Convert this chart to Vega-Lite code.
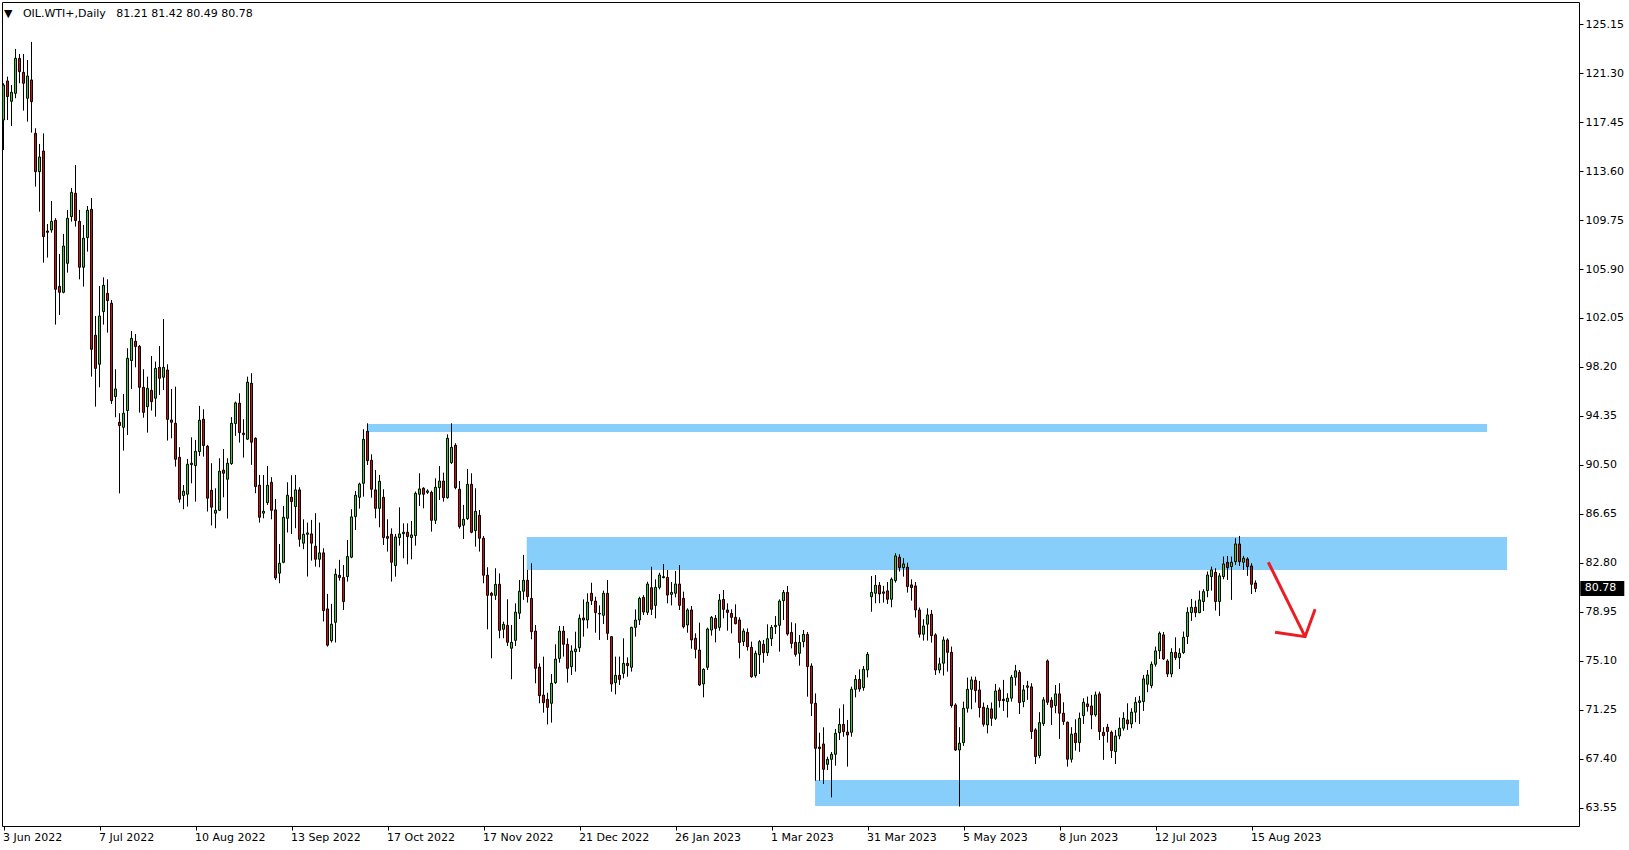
{
"$schema": "https://vega.github.io/schema/vega-lite/v6.json",
"width": 1577, "height": 824,
"autosize": {"type": "none"},
"padding": {"left": 2, "top": 2, "right": 50, "bottom": 24},
"background": "white",
"view": {"stroke": "#000", "strokeWidth": 1},
"title": {"text": "▼\u00a0\u00a0\u00a0OIL.WTI+,Daily\u00a0\u00a0\u00a081.21 81.42 80.49 80.78", "anchor": "start", "orient": "top", "offset": -23, "baseline": "middle", "font": "DejaVu Sans", "fontSize": 11, "fontWeight": "normal", "color": "#000", "dx": 2},
"config": {"axis": {"labelFont": "DejaVu Sans", "labelFontSize": 11, "labelColor": "#000", "tickColor": "#000", "tickWidth": 1, "domain": false, "grid": false, "labelOverlap": false, "labelFlush": false, "labelBound": false}, "scale": {"continuousPadding": 0}},
"datasets": {
"zones": [
{"i1": 90.95, "i2": 370.9, "p1": 93.09, "p2": 93.72},
{"i1": 130.8, "i2": 375.9, "p1": 82.24, "p2": 84.83},
{"i1": 202.9, "i2": 378.9, "p1": 63.67, "p2": 65.72}
],
"arrow": [
{"s": "a", "k": 0, "i": 316.2, "p": 82.84},
{"s": "a", "k": 1, "i": 325.4, "p": 76.99},
{"s": "b", "k": 0, "i": 317.9, "p": 77.34},
{"s": "b", "k": 1, "i": 325.4, "p": 76.99},
{"s": "b", "k": 2, "i": 327.9, "p": 79.15}
],
"last": [{"i": 395.3, "i1": 394.2, "i2": 405.2, "p": 80.78, "p1": 81.37, "p2": 80.19, "t": "80.78"}],
"bars": [
{"i":0,"o":117.62,"h":120.51,"l":115.26,"c":120.37},
{"i":1,"o":120.69,"h":121.03,"l":117.62,"c":119.46},
{"i":2,"o":119.09,"h":120.37,"l":117.15,"c":119.80},
{"i":3,"o":119.72,"h":123.21,"l":119.33,"c":122.47},
{"i":4,"o":122.47,"h":122.81,"l":120.51,"c":121.42},
{"i":5,"o":121.37,"h":122.81,"l":118.36,"c":120.51},
{"i":6,"o":119.33,"h":122.34,"l":117.49,"c":121.08},
{"i":7,"o":120.77,"h":123.76,"l":116.63,"c":119.06},
{"i":8,"o":116.57,"h":116.97,"l":112.38,"c":113.56},
{"i":9,"o":113.56,"h":115.74,"l":110.41,"c":114.71},
{"i":10,"o":115.18,"h":116.57,"l":106.40,"c":108.45},
{"i":11,"o":108.89,"h":109.44,"l":106.80,"c":108.79},
{"i":12,"o":108.97,"h":111.25,"l":108.76,"c":109.65},
{"i":13,"o":109.73,"h":109.90,"l":101.53,"c":104.31},
{"i":14,"o":104.54,"h":107.09,"l":102.29,"c":104.07},
{"i":15,"o":104.07,"h":108.66,"l":103.99,"c":107.71},
{"i":16,"o":106.35,"h":110.55,"l":105.62,"c":109.89},
{"i":17,"o":110.02,"h":112.28,"l":109.63,"c":111.93},
{"i":18,"o":111.86,"h":114.08,"l":109.23,"c":109.71},
{"i":19,"o":109.65,"h":110.55,"l":105.09,"c":106.04},
{"i":20,"o":106.04,"h":109.37,"l":104.52,"c":108.32},
{"i":21,"o":108.37,"h":110.86,"l":107.27,"c":110.52},
{"i":22,"o":110.60,"h":111.49,"l":97.44,"c":99.59},
{"i":23,"o":100.69,"h":102.21,"l":95.08,"c":98.09},
{"i":24,"o":98.41,"h":104.57,"l":96.60,"c":102.21},
{"i":25,"o":102.55,"h":105.25,"l":101.53,"c":104.62},
{"i":26,"o":103.99,"h":105.09,"l":100.90,"c":103.42},
{"i":27,"o":103.21,"h":103.47,"l":95.29,"c":95.55},
{"i":28,"o":95.87,"h":98.02,"l":94.24,"c":96.47},
{"i":29,"o":93.85,"h":94.56,"l":88.26,"c":93.59},
{"i":30,"o":93.45,"h":96.08,"l":91.62,"c":94.56},
{"i":31,"o":94.77,"h":99.67,"l":92.85,"c":98.88},
{"i":32,"o":98.70,"h":101.03,"l":96.47,"c":100.45},
{"i":33,"o":100.22,"h":100.79,"l":98.17,"c":99.80},
{"i":34,"o":99.82,"h":99.93,"l":94.61,"c":96.60},
{"i":35,"o":96.60,"h":98.02,"l":94.21,"c":94.63},
{"i":36,"o":95.08,"h":97.44,"l":93.04,"c":96.52},
{"i":37,"o":96.36,"h":99.06,"l":94.77,"c":95.47},
{"i":38,"o":95.74,"h":98.62,"l":94.29,"c":98.09},
{"i":39,"o":98.17,"h":99.85,"l":96.00,"c":97.31},
{"i":40,"o":97.39,"h":101.97,"l":96.39,"c":98.17},
{"i":41,"o":97.96,"h":98.41,"l":92.41,"c":94.08},
{"i":42,"o":94.03,"h":96.47,"l":92.59,"c":93.85},
{"i":43,"o":93.77,"h":96.65,"l":90.36,"c":90.94},
{"i":44,"o":91.10,"h":91.89,"l":87.53,"c":87.80},
{"i":45,"o":88.09,"h":88.92,"l":87.01,"c":88.43},
{"i":46,"o":88.19,"h":90.97,"l":87.22,"c":90.55},
{"i":47,"o":90.52,"h":92.67,"l":89.05,"c":90.63},
{"i":48,"o":90.44,"h":92.46,"l":87.61,"c":91.57},
{"i":49,"o":91.55,"h":95.14,"l":91.20,"c":94.01},
{"i":50,"o":94.09,"h":94.87,"l":91.15,"c":92.02},
{"i":51,"o":91.96,"h":92.07,"l":86.83,"c":87.88},
{"i":52,"o":88.50,"h":90.63,"l":85.73,"c":87.17},
{"i":53,"o":86.70,"h":88.66,"l":85.52,"c":86.93},
{"i":54,"o":86.93,"h":91.02,"l":86.91,"c":90.00},
{"i":55,"o":90.08,"h":91.75,"l":87.95,"c":89.84},
{"i":56,"o":89.37,"h":91.02,"l":86.28,"c":90.63},
{"i":57,"o":90.60,"h":94.25,"l":90.50,"c":93.77},
{"i":58,"o":93.75,"h":95.48,"l":92.78,"c":95.37},
{"i":59,"o":95.35,"h":96.13,"l":92.25,"c":93.04},
{"i":60,"o":92.99,"h":94.09,"l":91.07,"c":92.88},
{"i":61,"o":92.52,"h":97.44,"l":92.46,"c":97.00},
{"i":62,"o":96.92,"h":97.71,"l":90.50,"c":92.28},
{"i":63,"o":92.59,"h":92.67,"l":88.27,"c":88.79},
{"i":64,"o":88.90,"h":89.71,"l":85.96,"c":86.38},
{"i":65,"o":86.70,"h":89.71,"l":86.30,"c":86.85},
{"i":66,"o":87.53,"h":90.42,"l":87.35,"c":88.90},
{"i":67,"o":89.13,"h":89.53,"l":86.22,"c":86.93},
{"i":68,"o":86.96,"h":87.82,"l":81.45,"c":81.61},
{"i":69,"o":81.98,"h":84.28,"l":81.19,"c":82.76},
{"i":70,"o":82.84,"h":87.27,"l":82.76,"c":86.38},
{"i":71,"o":86.30,"h":89.13,"l":85.18,"c":88.11},
{"i":72,"o":87.95,"h":89.68,"l":85.07,"c":87.61},
{"i":73,"o":87.22,"h":89.71,"l":85.52,"c":88.53},
{"i":74,"o":88.53,"h":88.74,"l":84.07,"c":84.65},
{"i":75,"o":84.34,"h":86.22,"l":83.87,"c":85.04},
{"i":76,"o":85.04,"h":85.96,"l":81.72,"c":85.15},
{"i":77,"o":85.07,"h":86.17,"l":82.97,"c":84.34},
{"i":78,"o":84.10,"h":86.70,"l":82.50,"c":83.08},
{"i":79,"o":83.08,"h":85.96,"l":82.45,"c":83.58},
{"i":80,"o":83.58,"h":83.94,"l":78.18,"c":79.04},
{"i":81,"o":79.17,"h":80.35,"l":76.21,"c":76.32},
{"i":82,"o":76.68,"h":79.57,"l":76.53,"c":77.97},
{"i":83,"o":78.12,"h":82.34,"l":76.53,"c":81.90},
{"i":84,"o":81.82,"h":83.03,"l":81.40,"c":81.64},
{"i":85,"o":81.64,"h":82.63,"l":79.09,"c":79.75},
{"i":86,"o":81.72,"h":84.60,"l":81.32,"c":83.29},
{"i":87,"o":83.24,"h":87.01,"l":83.16,"c":86.41},
{"i":88,"o":86.43,"h":88.45,"l":85.38,"c":88.11},
{"i":89,"o":87.95,"h":89.10,"l":87.06,"c":89.00},
{"i":90,"o":89.05,"h":93.30,"l":88.00,"c":92.51},
{"i":91,"o":93.14,"h":93.77,"l":90.49,"c":90.83},
{"i":92,"o":90.86,"h":91.33,"l":87.92,"c":88.58},
{"i":93,"o":88.53,"h":90.10,"l":86.30,"c":87.08},
{"i":94,"o":87.08,"h":89.71,"l":85.59,"c":89.21},
{"i":95,"o":87.95,"h":88.58,"l":84.20,"c":84.78},
{"i":96,"o":84.86,"h":86.22,"l":83.68,"c":84.73},
{"i":97,"o":85.04,"h":85.51,"l":81.32,"c":82.84},
{"i":98,"o":82.58,"h":85.07,"l":81.71,"c":84.83},
{"i":99,"o":84.78,"h":87.16,"l":84.15,"c":85.07},
{"i":100,"o":85.09,"h":85.90,"l":83.15,"c":85.20},
{"i":101,"o":85.20,"h":85.90,"l":82.68,"c":84.86},
{"i":102,"o":84.78,"h":86.09,"l":83.07,"c":84.99},
{"i":103,"o":84.94,"h":88.40,"l":84.15,"c":88.26},
{"i":104,"o":88.19,"h":89.84,"l":87.27,"c":88.61},
{"i":105,"o":88.66,"h":88.74,"l":87.08,"c":88.19},
{"i":106,"o":88.34,"h":88.58,"l":88.21,"c":88.45},
{"i":107,"o":88.34,"h":88.47,"l":85.25,"c":86.14},
{"i":108,"o":86.14,"h":89.44,"l":85.85,"c":88.74},
{"i":109,"o":88.71,"h":90.41,"l":87.74,"c":89.23},
{"i":110,"o":89.23,"h":89.89,"l":87.61,"c":87.92},
{"i":111,"o":87.92,"h":92.90,"l":87.84,"c":92.59},
{"i":112,"o":90.68,"h":93.77,"l":90.57,"c":91.88},
{"i":113,"o":92.04,"h":92.20,"l":88.58,"c":88.71},
{"i":114,"o":88.58,"h":89.23,"l":85.49,"c":85.64},
{"i":115,"o":85.75,"h":87.35,"l":84.67,"c":86.22},
{"i":116,"o":86.27,"h":90.18,"l":86.17,"c":88.97},
{"i":117,"o":88.97,"h":89.84,"l":85.12,"c":85.20},
{"i":118,"o":85.33,"h":88.66,"l":84.07,"c":86.85},
{"i":119,"o":86.53,"h":86.95,"l":83.68,"c":84.73},
{"i":120,"o":84.73,"h":84.91,"l":81.19,"c":81.82},
{"i":121,"o":81.82,"h":82.45,"l":77.57,"c":80.24},
{"i":122,"o":80.40,"h":80.51,"l":75.29,"c":80.24},
{"i":123,"o":80.24,"h":82.37,"l":79.88,"c":81.11},
{"i":124,"o":81.11,"h":81.97,"l":76.86,"c":77.49},
{"i":125,"o":77.57,"h":78.17,"l":76.86,"c":77.96},
{"i":126,"o":77.88,"h":79.93,"l":76.26,"c":76.55},
{"i":127,"o":76.08,"h":77.91,"l":73.64,"c":76.55},
{"i":128,"o":76.70,"h":79.61,"l":76.26,"c":78.91},
{"i":129,"o":78.83,"h":81.45,"l":78.38,"c":80.56},
{"i":130,"o":80.56,"h":83.42,"l":79.88,"c":81.42},
{"i":131,"o":81.42,"h":82.24,"l":79.67,"c":80.14},
{"i":132,"o":80.00,"h":82.76,"l":76.78,"c":77.38},
{"i":133,"o":77.43,"h":77.91,"l":73.32,"c":74.50},
{"i":134,"o":74.60,"h":74.89,"l":71.75,"c":72.35},
{"i":135,"o":72.40,"h":75.42,"l":71.01,"c":71.80},
{"i":136,"o":72.06,"h":72.58,"l":70.09,"c":71.43},
{"i":137,"o":71.75,"h":74.05,"l":70.23,"c":73.32},
{"i":138,"o":73.37,"h":76.39,"l":73.27,"c":75.23},
{"i":139,"o":75.28,"h":77.83,"l":74.94,"c":77.43},
{"i":140,"o":77.43,"h":77.83,"l":75.42,"c":76.39},
{"i":141,"o":76.39,"h":76.86,"l":73.37,"c":74.50},
{"i":142,"o":74.63,"h":76.31,"l":73.97,"c":75.86},
{"i":143,"o":75.81,"h":77.38,"l":74.24,"c":76.02},
{"i":144,"o":76.12,"h":78.74,"l":75.78,"c":78.43},
{"i":145,"o":78.46,"h":79.92,"l":76.99,"c":78.30},
{"i":146,"o":78.30,"h":80.40,"l":77.64,"c":79.71},
{"i":147,"o":80.40,"h":81.23,"l":79.48,"c":79.82},
{"i":148,"o":79.79,"h":80.13,"l":77.30,"c":78.88},
{"i":149,"o":78.77,"h":79.45,"l":76.73,"c":78.82},
{"i":150,"o":78.67,"h":80.61,"l":77.98,"c":80.40},
{"i":151,"o":80.40,"h":81.44,"l":76.73,"c":77.25},
{"i":152,"o":76.99,"h":77.04,"l":72.66,"c":73.27},
{"i":153,"o":73.37,"h":75.42,"l":72.45,"c":73.95},
{"i":154,"o":73.95,"h":75.42,"l":73.19,"c":73.63},
{"i":155,"o":74.10,"h":76.86,"l":73.71,"c":74.89},
{"i":156,"o":74.89,"h":75.36,"l":73.84,"c":74.71},
{"i":157,"o":74.58,"h":77.77,"l":74.24,"c":77.72},
{"i":158,"o":77.72,"h":79.14,"l":76.99,"c":78.30},
{"i":159,"o":78.30,"h":80.13,"l":77.91,"c":80.00},
{"i":160,"o":80.08,"h":80.26,"l":78.69,"c":78.93},
{"i":161,"o":78.90,"h":81.31,"l":78.69,"c":81.13},
{"i":162,"o":80.84,"h":82.49,"l":78.69,"c":79.14},
{"i":163,"o":79.45,"h":81.50,"l":78.43,"c":80.87},
{"i":164,"o":80.87,"h":82.02,"l":80.71,"c":81.84},
{"i":165,"o":81.63,"h":82.70,"l":81.58,"c":81.71},
{"i":166,"o":81.65,"h":82.23,"l":79.61,"c":80.26},
{"i":167,"o":80.32,"h":81.29,"l":79.45,"c":80.47},
{"i":168,"o":80.40,"h":82.15,"l":80.08,"c":81.13},
{"i":169,"o":81.13,"h":82.62,"l":79.09,"c":79.45},
{"i":170,"o":80.00,"h":80.53,"l":77.64,"c":77.77},
{"i":171,"o":77.91,"h":79.22,"l":77.30,"c":79.09},
{"i":172,"o":79.09,"h":79.40,"l":76.04,"c":76.73},
{"i":173,"o":76.86,"h":77.25,"l":75.28,"c":75.99},
{"i":174,"o":75.94,"h":78.09,"l":73.11,"c":73.19},
{"i":175,"o":73.27,"h":74.50,"l":72.22,"c":74.42},
{"i":176,"o":74.58,"h":77.70,"l":74.37,"c":77.59},
{"i":177,"o":77.51,"h":78.61,"l":77.07,"c":78.51},
{"i":178,"o":78.43,"h":78.69,"l":76.54,"c":77.64},
{"i":179,"o":77.72,"h":80.34,"l":77.46,"c":79.87},
{"i":180,"o":79.92,"h":80.66,"l":78.43,"c":79.14},
{"i":181,"o":79.09,"h":79.61,"l":77.46,"c":78.90},
{"i":182,"o":78.82,"h":79.14,"l":77.25,"c":78.51},
{"i":183,"o":78.51,"h":79.53,"l":77.96,"c":78.01},
{"i":184,"o":78.30,"h":78.51,"l":75.28,"c":76.54},
{"i":185,"o":76.60,"h":77.64,"l":76.25,"c":77.43},
{"i":186,"o":77.33,"h":77.64,"l":75.89,"c":76.20},
{"i":187,"o":76.15,"h":76.60,"l":73.76,"c":73.84},
{"i":188,"o":73.92,"h":75.89,"l":73.76,"c":75.68},
{"i":189,"o":75.57,"h":76.73,"l":74.05,"c":76.60},
{"i":190,"o":76.39,"h":76.73,"l":74.94,"c":75.73},
{"i":191,"o":75.73,"h":77.96,"l":75.47,"c":76.83},
{"i":192,"o":76.83,"h":77.91,"l":76.25,"c":77.72},
{"i":193,"o":77.77,"h":78.61,"l":77.20,"c":77.88},
{"i":194,"o":77.88,"h":79.92,"l":75.81,"c":79.79},
{"i":195,"o":79.82,"h":80.66,"l":78.30,"c":80.47},
{"i":196,"o":80.47,"h":80.97,"l":77.07,"c":77.20},
{"i":197,"o":77.33,"h":78.12,"l":76.07,"c":76.46},
{"i":198,"o":76.54,"h":78.04,"l":75.42,"c":75.60},
{"i":199,"o":75.68,"h":77.12,"l":74.71,"c":76.54},
{"i":200,"o":76.60,"h":77.51,"l":76.15,"c":77.17},
{"i":201,"o":77.17,"h":77.36,"l":72.27,"c":74.63},
{"i":202,"o":74.68,"h":74.89,"l":70.75,"c":71.75},
{"i":203,"o":71.75,"h":72.53,"l":65.66,"c":68.21},
{"i":204,"o":68.31,"h":69.44,"l":65.66,"c":68.18},
{"i":205,"o":68.55,"h":69.86,"l":65.40,"c":66.56},
{"i":206,"o":66.95,"h":67.55,"l":66.50,"c":67.34},
{"i":207,"o":67.34,"h":67.92,"l":64.35,"c":67.74},
{"i":208,"o":67.74,"h":69.73,"l":66.84,"c":69.39},
{"i":209,"o":69.44,"h":71.35,"l":68.86,"c":70.09},
{"i":210,"o":70.09,"h":71.67,"l":69.12,"c":69.52},
{"i":211,"o":69.49,"h":70.44,"l":66.77,"c":69.26},
{"i":212,"o":69.47,"h":73.06,"l":69.12,"c":72.85},
{"i":213,"o":72.85,"h":73.97,"l":72.22,"c":73.63},
{"i":214,"o":73.63,"h":74.42,"l":72.66,"c":72.87},
{"i":215,"o":72.98,"h":74.68,"l":72.74,"c":74.42},
{"i":216,"o":74.37,"h":75.78,"l":73.79,"c":75.60},
{"i":217,"o":80.13,"h":81.76,"l":78.95,"c":80.47},
{"i":218,"o":80.40,"h":81.84,"l":79.61,"c":81.03},
{"i":219,"o":81.03,"h":81.29,"l":79.62,"c":80.35},
{"i":220,"o":80.51,"h":80.98,"l":79.67,"c":80.40},
{"i":221,"o":80.59,"h":81.29,"l":79.56,"c":79.93},
{"i":222,"o":79.93,"h":81.64,"l":79.30,"c":81.50},
{"i":223,"o":81.40,"h":83.55,"l":81.24,"c":83.34},
{"i":224,"o":83.23,"h":83.47,"l":82.11,"c":82.42},
{"i":225,"o":82.42,"h":83.16,"l":81.71,"c":82.71},
{"i":226,"o":82.45,"h":82.81,"l":80.46,"c":80.93},
{"i":227,"o":81.06,"h":81.50,"l":79.83,"c":80.85},
{"i":228,"o":80.98,"h":81.29,"l":78.49,"c":79.09},
{"i":229,"o":79.09,"h":79.28,"l":76.92,"c":77.18},
{"i":230,"o":77.18,"h":78.36,"l":76.68,"c":77.83},
{"i":231,"o":77.97,"h":79.22,"l":76.68,"c":78.70},
{"i":232,"o":78.75,"h":79.09,"l":76.52,"c":77.07},
{"i":233,"o":77.13,"h":77.26,"l":73.98,"c":74.37},
{"i":234,"o":74.37,"h":75.34,"l":74.11,"c":74.85},
{"i":235,"o":74.90,"h":77.00,"l":73.93,"c":76.73},
{"i":236,"o":76.73,"h":76.86,"l":74.24,"c":75.76},
{"i":237,"o":75.76,"h":76.21,"l":71.41,"c":71.57},
{"i":238,"o":71.62,"h":71.75,"l":68.00,"c":68.08},
{"i":239,"o":68.08,"h":69.87,"l":63.63,"c":68.61},
{"i":240,"o":68.66,"h":71.88,"l":68.40,"c":71.36},
{"i":241,"o":71.36,"h":73.77,"l":71.02,"c":72.85},
{"i":242,"o":72.85,"h":73.85,"l":71.28,"c":73.59},
{"i":243,"o":73.56,"h":73.85,"l":71.81,"c":72.75},
{"i":244,"o":72.80,"h":73.51,"l":70.63,"c":71.41},
{"i":245,"o":71.44,"h":71.81,"l":69.92,"c":70.10},
{"i":246,"o":70.05,"h":71.62,"l":69.39,"c":71.36},
{"i":247,"o":71.31,"h":71.81,"l":69.97,"c":70.57},
{"i":248,"o":70.57,"h":73.27,"l":70.44,"c":72.72},
{"i":249,"o":72.80,"h":72.99,"l":71.41,"c":71.96},
{"i":250,"o":72.07,"h":73.59,"l":71.15,"c":71.96},
{"i":251,"o":71.88,"h":72.54,"l":70.63,"c":72.15},
{"i":252,"o":72.15,"h":73.98,"l":71.88,"c":73.80},
{"i":253,"o":73.80,"h":74.77,"l":73.14,"c":74.30},
{"i":254,"o":74.19,"h":74.37,"l":70.91,"c":71.81},
{"i":255,"o":71.88,"h":73.19,"l":71.44,"c":72.80},
{"i":256,"o":73.01,"h":73.51,"l":72.02,"c":73.12},
{"i":257,"o":73.04,"h":73.33,"l":68.95,"c":69.53},
{"i":258,"o":69.66,"h":69.79,"l":66.98,"c":67.56},
{"i":259,"o":67.64,"h":71.05,"l":67.43,"c":70.23},
{"i":260,"o":70.15,"h":72.23,"l":69.97,"c":72.02},
{"i":261,"o":75.08,"h":75.20,"l":71.62,"c":71.83},
{"i":262,"o":71.99,"h":72.23,"l":70.05,"c":71.44},
{"i":263,"o":71.57,"h":73.19,"l":70.97,"c":72.49},
{"i":264,"o":72.49,"h":73.33,"l":68.95,"c":70.97},
{"i":265,"o":70.97,"h":71.83,"l":70.05,"c":70.31},
{"i":266,"o":70.26,"h":70.31,"l":66.77,"c":67.35},
{"i":267,"o":67.35,"h":69.87,"l":67.09,"c":69.32},
{"i":268,"o":69.39,"h":70.49,"l":68.03,"c":68.66},
{"i":269,"o":68.66,"h":71.02,"l":67.93,"c":70.57},
{"i":270,"o":70.78,"h":72.15,"l":70.13,"c":71.83},
{"i":271,"o":71.70,"h":72.28,"l":71.10,"c":71.49},
{"i":272,"o":71.54,"h":72.41,"l":69.71,"c":70.84},
{"i":273,"o":70.84,"h":72.67,"l":70.70,"c":72.41},
{"i":274,"o":72.49,"h":72.67,"l":68.87,"c":69.53},
{"i":275,"o":69.47,"h":69.87,"l":67.30,"c":69.21},
{"i":276,"o":69.87,"h":70.13,"l":68.66,"c":69.53},
{"i":277,"o":69.47,"h":69.60,"l":67.45,"c":68.03},
{"i":278,"o":67.95,"h":69.66,"l":66.98,"c":69.18},
{"i":279,"o":69.18,"h":70.63,"l":68.92,"c":69.79},
{"i":280,"o":69.79,"h":71.05,"l":69.60,"c":70.57},
{"i":281,"o":70.44,"h":71.75,"l":69.66,"c":70.13},
{"i":282,"o":70.13,"h":71.36,"l":69.79,"c":71.05},
{"i":283,"o":71.05,"h":72.23,"l":70.26,"c":71.83},
{"i":284,"o":71.81,"h":72.33,"l":70.13,"c":71.94},
{"i":285,"o":71.88,"h":73.98,"l":71.15,"c":73.67},
{"i":286,"o":73.25,"h":74.37,"l":72.62,"c":73.98},
{"i":287,"o":73.14,"h":75.03,"l":72.93,"c":74.82},
{"i":288,"o":74.82,"h":76.21,"l":74.64,"c":75.87},
{"i":289,"o":75.87,"h":77.39,"l":75.24,"c":77.26},
{"i":290,"o":77.13,"h":77.36,"l":75.16,"c":75.24},
{"i":291,"o":75.08,"h":75.21,"l":73.82,"c":74.06},
{"i":292,"o":74.06,"h":76.08,"l":73.80,"c":75.76},
{"i":293,"o":75.76,"h":76.94,"l":75.16,"c":75.34},
{"i":294,"o":75.34,"h":76.08,"l":74.45,"c":75.68},
{"i":295,"o":75.74,"h":77.39,"l":75.63,"c":76.94},
{"i":296,"o":77.00,"h":79.30,"l":76.42,"c":78.91},
{"i":297,"o":78.88,"h":79.96,"l":78.23,"c":79.30},
{"i":298,"o":79.30,"h":79.83,"l":78.52,"c":78.88},
{"i":299,"o":78.88,"h":80.61,"l":78.83,"c":79.88},
{"i":300,"o":79.75,"h":80.72,"l":79.01,"c":80.53},
{"i":301,"o":80.61,"h":82.11,"l":80.09,"c":81.84},
{"i":302,"o":81.71,"h":82.50,"l":80.61,"c":82.24},
{"i":303,"o":82.05,"h":82.37,"l":79.04,"c":79.75},
{"i":304,"o":79.75,"h":81.98,"l":78.62,"c":81.77},
{"i":305,"o":81.71,"h":83.29,"l":81.50,"c":82.71},
{"i":306,"o":82.84,"h":83.34,"l":81.45,"c":82.42},
{"i":307,"o":82.50,"h":83.29,"l":79.88,"c":82.84},
{"i":308,"o":82.89,"h":84.73,"l":82.63,"c":84.28},
{"i":309,"o":84.28,"h":84.91,"l":82.55,"c":82.89},
{"i":310,"o":82.84,"h":83.34,"l":82.24,"c":83.16},
{"i":311,"o":83.10,"h":83.23,"l":81.77,"c":82.50},
{"i":312,"o":82.55,"h":82.76,"l":80.35,"c":81.11},
{"i":313,"o":81.21,"h":81.42,"l":80.49,"c":80.78}
]
},
"layer": [
{"data": {"name": "zones"}, "mark": {"type": "rect", "fill": "#87CEFA"},
 "encoding": {
  "x": {"field": "i1", "type": "quantitative", "scale": {"domain": [-0.375, 393.875], "nice": false, "zero": false, "padding": 0},
        "axis": {"orient": "bottom", "title": null, "values": [0,24,48,72,96,120,144,168,192,216,240,264,288,312], "tickSize": 4, "labelPadding": 1, "labelAlign": "left", "labelBaseline": "top", "labelOffset": -1,
                 "labelExpr": "datum.value==0?'3 Jun 2022':datum.value==24?'7 Jul 2022':datum.value==48?'10 Aug 2022':datum.value==72?'13 Sep 2022':datum.value==96?'17 Oct 2022':datum.value==120?'17 Nov 2022':datum.value==144?'21 Dec 2022':datum.value==168?'26 Jan 2023':datum.value==192?'1 Mar 2023':datum.value==216?'31 Mar 2023':datum.value==240?'5 May 2023':datum.value==264?'8 Jun 2023':datum.value==288?'12 Jul 2023':'15 Aug 2023'"}},
  "x2": {"field": "i2"},
  "y": {"field": "p1", "type": "quantitative", "scale": {"domain": [62.10, 126.90], "nice": false, "zero": false, "padding": 0},
        "axis": {"orient": "right", "title": null, "values": [63.55,67.4,71.25,75.1,78.95,82.8,86.65,90.5,94.35,98.2,102.05,105.9,109.75,113.6,117.45,121.3,125.15], "format": ".2f", "tickSize": 4, "labelPadding": 2, "labelAlign": "left", "labelBaseline": "middle"}},
  "y2": {"field": "p2"}
 }},
{"data": {"name": "bars"}, "mark": {"type": "rule", "color": "#000", "strokeWidth": 1},
 "encoding": {
  "x": {"field": "i", "type": "quantitative",
        "axis": {"orient": "bottom", "title": null, "values": [0,24,48,72,96,120,144,168,192,216,240,264,288,312], "tickSize": 4, "labelPadding": 1, "labelAlign": "left", "labelBaseline": "top", "labelOffset": -1,
                 "labelExpr": "datum.value==0?'3 Jun 2022':datum.value==24?'7 Jul 2022':datum.value==48?'10 Aug 2022':datum.value==72?'13 Sep 2022':datum.value==96?'17 Oct 2022':datum.value==120?'17 Nov 2022':datum.value==144?'21 Dec 2022':datum.value==168?'26 Jan 2023':datum.value==192?'1 Mar 2023':datum.value==216?'31 Mar 2023':datum.value==240?'5 May 2023':datum.value==264?'8 Jun 2023':datum.value==288?'12 Jul 2023':'15 Aug 2023'"}},
  "y": {"field": "l", "type": "quantitative",
        "axis": {"orient": "right", "title": null, "values": [63.55,67.4,71.25,75.1,78.95,82.8,86.65,90.5,94.35,98.2,102.05,105.9,109.75,113.6,117.45,121.3,125.15], "format": ".2f", "tickSize": 4, "labelPadding": 2, "labelAlign": "left", "labelBaseline": "middle"}},
  "y2": {"field": "h"}
 }},
{"data": {"name": "bars"}, "mark": {"type": "bar", "width": 2, "stroke": "#000", "strokeWidth": 1},
 "encoding": {
  "x": {"field": "i", "type": "quantitative",
        "axis": {"orient": "bottom", "title": null, "values": [0,24,48,72,96,120,144,168,192,216,240,264,288,312], "tickSize": 4, "labelPadding": 1, "labelAlign": "left", "labelBaseline": "top", "labelOffset": -1,
                 "labelExpr": "datum.value==0?'3 Jun 2022':datum.value==24?'7 Jul 2022':datum.value==48?'10 Aug 2022':datum.value==72?'13 Sep 2022':datum.value==96?'17 Oct 2022':datum.value==120?'17 Nov 2022':datum.value==144?'21 Dec 2022':datum.value==168?'26 Jan 2023':datum.value==192?'1 Mar 2023':datum.value==216?'31 Mar 2023':datum.value==240?'5 May 2023':datum.value==264?'8 Jun 2023':datum.value==288?'12 Jul 2023':'15 Aug 2023'"}},
  "y": {"field": "o", "type": "quantitative",
        "axis": {"orient": "right", "title": null, "values": [63.55,67.4,71.25,75.1,78.95,82.8,86.65,90.5,94.35,98.2,102.05,105.9,109.75,113.6,117.45,121.3,125.15], "format": ".2f", "tickSize": 4, "labelPadding": 2, "labelAlign": "left", "labelBaseline": "middle"}},
  "y2": {"field": "c"},
  "fill": {"condition": {"test": "datum.c >= datum.o", "value": "#00F000"}, "value": "#F00000"}
 }},
{"data": {"name": "arrow"}, "mark": {"type": "line", "color": "#EC1C24", "strokeWidth": 3},
 "encoding": {
  "x": {"field": "i", "type": "quantitative",
        "axis": {"orient": "bottom", "title": null, "values": [0,24,48,72,96,120,144,168,192,216,240,264,288,312], "tickSize": 4, "labelPadding": 1, "labelAlign": "left", "labelBaseline": "top", "labelOffset": -1,
                 "labelExpr": "datum.value==0?'3 Jun 2022':datum.value==24?'7 Jul 2022':datum.value==48?'10 Aug 2022':datum.value==72?'13 Sep 2022':datum.value==96?'17 Oct 2022':datum.value==120?'17 Nov 2022':datum.value==144?'21 Dec 2022':datum.value==168?'26 Jan 2023':datum.value==192?'1 Mar 2023':datum.value==216?'31 Mar 2023':datum.value==240?'5 May 2023':datum.value==264?'8 Jun 2023':datum.value==288?'12 Jul 2023':'15 Aug 2023'"}},
  "y": {"field": "p", "type": "quantitative",
        "axis": {"orient": "right", "title": null, "values": [63.55,67.4,71.25,75.1,78.95,82.8,86.65,90.5,94.35,98.2,102.05,105.9,109.75,113.6,117.45,121.3,125.15], "format": ".2f", "tickSize": 4, "labelPadding": 2, "labelAlign": "left", "labelBaseline": "middle"}},
  "detail": {"field": "s"},
  "order": {"field": "k"}
 }},
{"data": {"name": "last"}, "mark": {"type": "rect", "fill": "#000"},
 "encoding": {
  "x": {"field": "i1", "type": "quantitative",
        "axis": {"orient": "bottom", "title": null, "values": [0,24,48,72,96,120,144,168,192,216,240,264,288,312], "tickSize": 4, "labelPadding": 1, "labelAlign": "left", "labelBaseline": "top", "labelOffset": -1,
                 "labelExpr": "datum.value==0?'3 Jun 2022':datum.value==24?'7 Jul 2022':datum.value==48?'10 Aug 2022':datum.value==72?'13 Sep 2022':datum.value==96?'17 Oct 2022':datum.value==120?'17 Nov 2022':datum.value==144?'21 Dec 2022':datum.value==168?'26 Jan 2023':datum.value==192?'1 Mar 2023':datum.value==216?'31 Mar 2023':datum.value==240?'5 May 2023':datum.value==264?'8 Jun 2023':datum.value==288?'12 Jul 2023':'15 Aug 2023'"}},
  "x2": {"field": "i2"},
  "y": {"field": "p1", "type": "quantitative",
        "axis": {"orient": "right", "title": null, "values": [63.55,67.4,71.25,75.1,78.95,82.8,86.65,90.5,94.35,98.2,102.05,105.9,109.75,113.6,117.45,121.3,125.15], "format": ".2f", "tickSize": 4, "labelPadding": 2, "labelAlign": "left", "labelBaseline": "middle"}},
  "y2": {"field": "p2"}
 }},
{"data": {"name": "last"}, "mark": {"type": "text", "color": "#fff", "align": "left", "baseline": "middle", "font": "DejaVu Sans", "fontSize": 11},
 "encoding": {
  "x": {"field": "i", "type": "quantitative",
        "axis": {"orient": "bottom", "title": null, "values": [0,24,48,72,96,120,144,168,192,216,240,264,288,312], "tickSize": 4, "labelPadding": 1, "labelAlign": "left", "labelBaseline": "top", "labelOffset": -1,
                 "labelExpr": "datum.value==0?'3 Jun 2022':datum.value==24?'7 Jul 2022':datum.value==48?'10 Aug 2022':datum.value==72?'13 Sep 2022':datum.value==96?'17 Oct 2022':datum.value==120?'17 Nov 2022':datum.value==144?'21 Dec 2022':datum.value==168?'26 Jan 2023':datum.value==192?'1 Mar 2023':datum.value==216?'31 Mar 2023':datum.value==240?'5 May 2023':datum.value==264?'8 Jun 2023':datum.value==288?'12 Jul 2023':'15 Aug 2023'"}},
  "y": {"field": "p", "type": "quantitative",
        "axis": {"orient": "right", "title": null, "values": [63.55,67.4,71.25,75.1,78.95,82.8,86.65,90.5,94.35,98.2,102.05,105.9,109.75,113.6,117.45,121.3,125.15], "format": ".2f", "tickSize": 4, "labelPadding": 2, "labelAlign": "left", "labelBaseline": "middle"}},
  "text": {"field": "t"}
 }}
]
}
